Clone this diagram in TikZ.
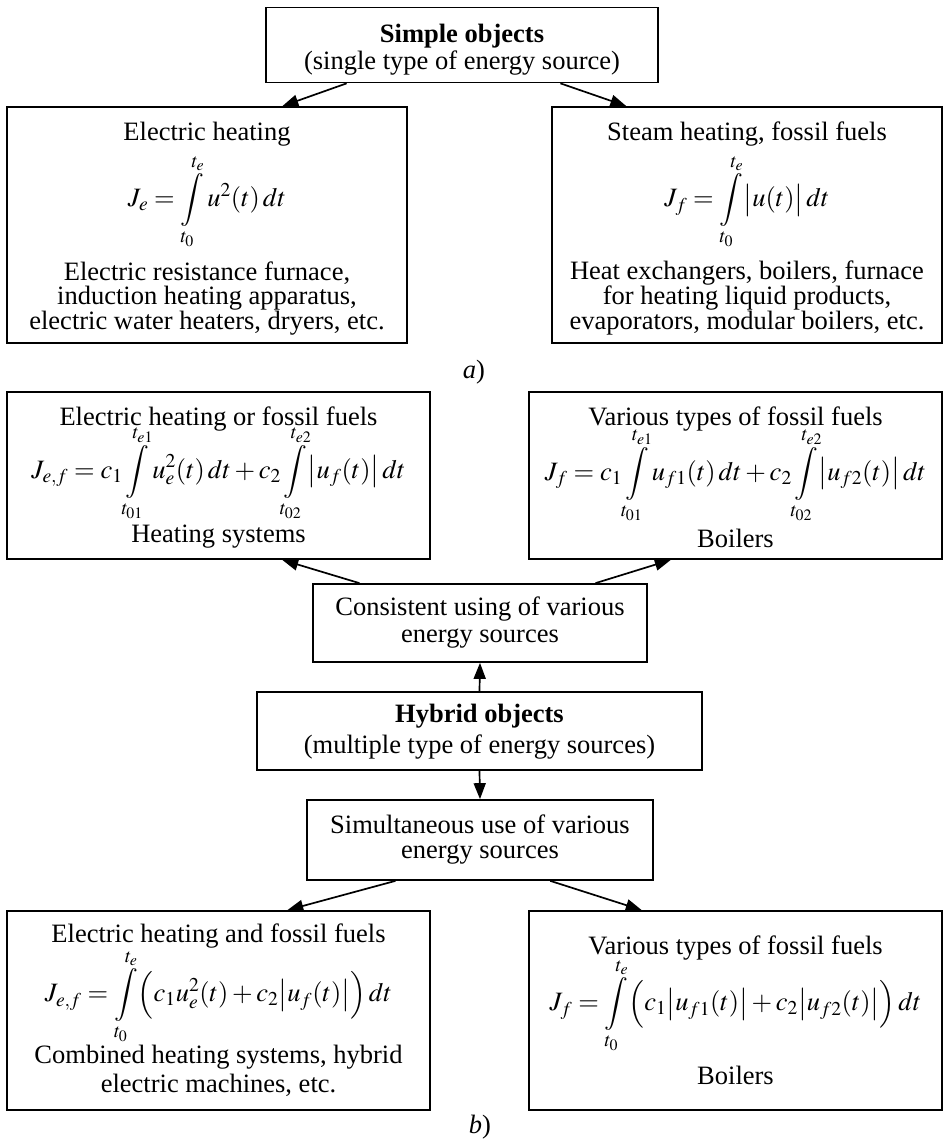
\documentclass[tikz,border=0pt]{standalone}
\usepackage{mathptmx}
\usepackage[no-math]{fontspec}
\setmainfont{Liberation Serif}
\usetikzlibrary{arrows.meta,calc}
\tikzset{
  box/.style={draw, line width=1.7pt, inner sep=0pt},
  txt/.style={font=\fontsize{26.5}{29}\selectfont, inner sep=0pt, anchor=center},
  arr/.style={-{Triangle[length=16pt,width=12pt]}, line width=1.7pt}
}
\begin{document}
\begin{tikzpicture}[x=1pt,y=-1pt]
\useasboundingbox (0,0) rectangle (946,1141);
% ---- part a
\node[box, minimum width=392pt, minimum height=75pt] (simple) at (462,45) {};
\node[txt] (simpleA) at (462,36) {\textbf{Simple objects}};
\node[txt] (simpleB) at (462,63) {(single type of energy source)};

\node[box, minimum width=400pt, minimum height=236pt] (ea) at (207,225) {};
\node[txt] (eaA) at (207,134) {Electric heating};
\node[txt] (eaF) at (207,202) {$\displaystyle J_e=\int\limits_{t_0}^{t_e} u^2(t)\,dt$};
\node[txt] (eaB) at (207,273) {Electric resistance furnace,};
\node[txt] (eaC) at (207,298) {induction heating apparatus,};
\node[txt] (eaD) at (207,323) {electric water heaters, dryers, etc.};

\node[box, minimum width=390pt, minimum height=236pt] (fa) at (747,225) {};
\node[txt] (faA) at (747,134) {Steam heating, fossil fuels};
\node[txt] (faF) at (747,202) {$\displaystyle J_f=\int\limits_{t_0}^{t_e} \bigl|u(t)\bigr|\,dt$};
\node[txt] (faB) at (747,273) {Heat exchangers, boilers, furnace};
\node[txt] (faC) at (747,298) {for heating liquid products,};
\node[txt] (faD) at (747,323) {evaporators, modular boilers, etc.};

\node[txt] (labA) at (474,372) {\textit{a})};

\draw[arr] ($(simple.south west)!0.207!(simple.south east)$) -- ($(ea.north west)!0.6875!(ea.north east)$);
\draw[arr] ($(simple.south west)!0.75!(simple.south east)$) -- ($(fa.north west)!0.192!(fa.north east)$);

% ---- part b
\node[box, minimum width=423pt, minimum height=167pt] (cb1) at (218.5,475.5) {};
\node[txt] (cb1A) at (218.5,419) {Electric heating or fossil fuels};
\node[txt] (cb1F) at (218.5,473) {$\displaystyle J_{e,f}=c_1\int\limits_{t_{01}}^{t_{e1}} u_e^2(t)\,dt+c_2\int\limits_{t_{02}}^{t_{e2}}\bigl|u_f(t)\bigr|\,dt$};
\node[txt] (cb1B) at (218.5,537) {Heating systems};

\node[box, minimum width=413pt, minimum height=167pt] (cb2) at (735.5,475.5) {};
\node[txt] (cb2A) at (735.5,419) {Various types of fossil fuels};
\node[txt] (cb2F) at (735.5,475) {$\displaystyle J_f=c_1\int\limits_{t_{01}}^{t_{e1}} u_{f1}(t)\,dt+c_2\int\limits_{t_{02}}^{t_{e2}}\bigl|u_{f2}(t)\bigr|\,dt$};
\node[txt] (cb2B) at (735.5,538) {Boilers};

\node[box, minimum width=334pt, minimum height=78pt] (cons) at (480,623) {};
\node[txt] (consA) at (480,609) {Consistent using of various};
\node[txt] (consB) at (480,639) {energy sources};

\node[box, minimum width=445pt, minimum height=78pt] (hyb) at (479.5,731) {};
\node[txt] (hybA) at (479.5,716) {\textbf{Hybrid objects}};
\node[txt] (hybB) at (479.5,747) {(multiple type of energy sources)};

\node[box, minimum width=346pt, minimum height=80pt] (sim) at (480,840) {};
\node[txt] (simA) at (480,824) {Simultaneous use of various};
\node[txt] (simB) at (480,855) {energy sources};

\node[box, minimum width=423pt, minimum height=199pt] (sb1) at (218.5,1010.5) {};
\node[txt] (sb1A) at (218.5,936) {Electric heating and fossil fuels};
\node[txt] (sb1F) at (218.5,997) {$\displaystyle J_{e,f}=\int\limits_{t_0}^{t_e}\Bigl(c_1u_e^2(t)+c_2\bigl|u_f(t)\bigr|\Bigr)\,dt$};
\node[txt] (sb1B) at (218.5,1057) {Combined heating systems, hybrid};
\node[txt] (sb1C) at (218.5,1085) {electric machines, etc.};

\node[box, minimum width=413pt, minimum height=199pt] (sb2) at (735.5,1010.5) {};
\node[txt] (sb2A) at (735.5,948) {Various types of fossil fuels};
\node[txt] (sb2F) at (735.5,1006) {$\displaystyle J_f=\int\limits_{t_0}^{t_e}\Bigl(c_1\bigl|u_{f1}(t)\bigr|+c_2\bigl|u_{f2}(t)\bigr|\Bigr)\,dt$};
\node[txt] (sb2B) at (735.5,1075) {Boilers};

\node[txt] (labB) at (480,1127) {\textit{b})};

\draw[arr] ($(cons.north west)!0.141!(cons.north east)$) -- ($(cb1.south west)!0.65!(cb1.south east)$);
\draw[arr] ($(cons.north west)!0.844!(cons.north east)$) -- ($(cb2.south west)!0.344!(cb2.south east)$);
\draw[arr] (hyb.north) -- (cons.south);
\draw[arr] (hyb.south) -- (sim.north);
\draw[arr] ($(sim.south west)!0.257!(sim.south east)$) -- ($(sb1.north west)!0.662!(sb1.north east)$);
\draw[arr] ($(sim.south west)!0.702!(sim.south east)$) -- ($(sb2.north west)!0.274!(sb2.north east)$);
\end{tikzpicture}
\end{document}
